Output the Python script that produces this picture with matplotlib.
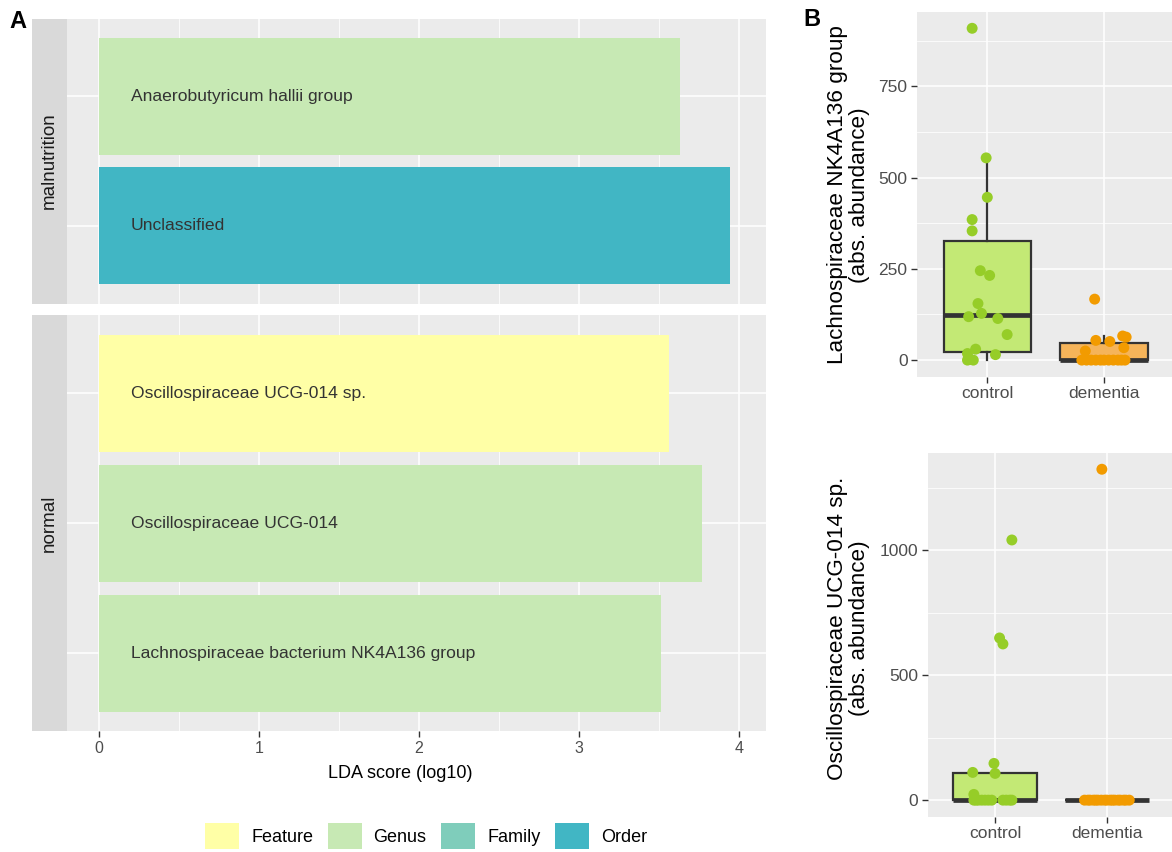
import matplotlib
matplotlib.use("Agg")
import matplotlib.pyplot as plt
from matplotlib.patches import Patch
from matplotlib.ticker import FixedLocator

plt.rcParams['font.family'] = ['Liberation Sans', 'DejaVu Sans']

# ---- LEfSe results (panel A) ----
groups = ["malnutrition", "normal"]
taxa_malnutrition = ["Anaerobutyricum hallii group", "Unclassified"]
lda_malnutrition = [3.63, 3.94]
level_malnutrition = ["Genus", "Order"]
taxa_normal = ["Oscillospiraceae UCG-014 sp.", "Oscillospiraceae UCG-014",
               "Lachnospiraceae bacterium NK4A136 group"]
lda_normal = [3.56, 3.77, 3.51]
level_normal = ["Feature", "Genus", "Genus"]
levels = ["Feature", "Genus", "Family", "Order"]
level_colors = ["#FFFFA6", "#C7E9B4", "#7FCDBB", "#41B6C4"]
lda_ticks = [0, 1, 2, 3, 4]

# ---- absolute abundances (panel B) ----
cohorts = ["control", "dementia"]
lachno_control = [909, 554, 446, 385, 354, 245, 232, 155, 128, 119, 114, 70, 30, 18, 15, 2, 0, 0]
lachno_control_dx = [-0.13, -0.01, 0.00, -0.13, -0.13, -0.06, 0.02, -0.08, -0.05,
                     -0.16, 0.09, 0.17, -0.10, -0.17, 0.07, -0.15, -0.17, -0.12]
lachno_dementia = [167, 66, 63, 54, 51, 34, 25, 0, 0, 0, 0, 0, 0, 0, 0, 0, 0, 0]
lachno_dementia_dx = [-0.08, 0.16, 0.19, -0.07, 0.05, 0.17, -0.16, -0.19, -0.15,
                      -0.11, -0.07, -0.03, 0.00, 0.04, 0.08, 0.12, 0.15, 0.18]
osc_control = [1041, 649, 625, 147, 111, 107, 23, 0, 0, 0, 0, 0, 0, 0, 0, 0, 0, 0]
osc_control_dx = [0.15, 0.04, 0.07, -0.01, -0.20, 0.00, -0.19, -0.19, -0.17,
                  -0.15, -0.12, -0.09, -0.06, -0.03, 0.07, 0.10, 0.13, 0.15]
osc_dementia = [1324, 0, 0, 0, 0, 0, 0, 0, 0, 0, 0, 0, 0, 0, 0, 0, 0, 0]
osc_dementia_dx = [-0.045, -0.20, -0.17, -0.15, -0.12, -0.10, -0.08, -0.05, -0.02,
                   0.00, 0.03, 0.05, 0.07, 0.10, 0.12, 0.15, 0.17, 0.20]
lachno_ticks = [0, 250, 500, 750]
osc_ticks = [0, 500, 1000]

point_colors = ["#96CD28", "#F29B00"]
box_fills = ["#C3E975", "#F5B45A"]

PANEL = "#EBEBEB"
TICK = "#333333"
TICKLAB = "#4D4D4D"

W, H = 1172, 852
fig = plt.figure(figsize=(W / 100, H / 100), dpi=100)


def px_axes(x0, y0, x1, y1):
    return fig.add_axes([x0 / W, 1 - y1 / H, (x1 - x0) / W, (y1 - y0) / H])


def gg_style(ax):
    ax.set_facecolor(PANEL)
    for s in ax.spines.values():
        s.set_visible(False)
    ax.set_axisbelow(True)
    ax.grid(which="major", color="white", lw=1.1)
    ax.grid(which="minor", color="white", lw=0.55)
    ax.tick_params(which="major", color=TICK, length=4, width=1.0,
                   labelcolor=TICKLAB, pad=3)
    ax.tick_params(which="minor", length=0)


# ---- panel A: faceted horizontal bars ----
lda_max = max(lda_malnutrition + lda_normal)
pad = 0.05 * lda_max
facets = [
    (groups[0], taxa_malnutrition, lda_malnutrition, level_malnutrition, 18.5, 303.5),
    (groups[1], taxa_normal, lda_normal, level_normal, 315.5, 731.0),
]
for i, (grp, taxa, lda, lev, top, bot) in enumerate(facets):
    ax = px_axes(67, top, 766, bot)
    gg_style(ax)
    ypos = list(range(1, len(taxa) + 1))
    cols = [level_colors[levels.index(l)] for l in lev]
    ax.barh(ypos, lda, height=0.9, color=cols, edgecolor="none", zorder=2)
    for y, t in zip(ypos, taxa):
        ax.text(0.2, y, t, ha="left", va="center", fontsize=12.6, color="#333333", zorder=3)
    ax.set_ylim(len(taxa) + 0.6, 0.4)
    ax.set_xlim(-pad, lda_max + pad + 0.03)
    ax.set_yticks(ypos)
    ax.set_yticklabels([])
    ax.tick_params(axis="y", length=0)
    ax.xaxis.set_major_locator(FixedLocator(lda_ticks))
    ax.xaxis.set_minor_locator(FixedLocator([t + 0.5 for t in lda_ticks[:-1]]))
    if i == 0:
        ax.tick_params(axis="x", length=0, labelbottom=False)
    else:
        ax.tick_params(axis="x", labelsize=11.5)
    # facet strip on the left
    sax = px_axes(32, top, 67, bot)
    sax.set_facecolor("#D9D9D9")
    for s in sax.spines.values():
        s.set_visible(False)
    sax.set_xticks([])
    sax.set_yticks([])
    sax.text(0.5, 0.5, grp, rotation=90, ha="center", va="center",
             fontsize=13.5, color="#1A1A1A", transform=sax.transAxes)

fig.text(400 / W, 1 - 773 / H, "LDA score (log10)", ha="center", va="center",
         fontsize=13, color="black")

handles = [Patch(facecolor=c, edgecolor="none") for c in level_colors]
fig.legend(handles, levels, loc="center", bbox_to_anchor=(426 / W, 1 - 836 / H),
           ncol=4, frameon=False, fontsize=13, handlelength=1.9, handleheight=1.9,
           handletextpad=0.65, columnspacing=0.8, borderpad=0, borderaxespad=0)


# ---- panel B: box plots with jittered points ----
def abundance_panel(box, ctrl, ctrl_dx, dem, dem_dx, ticks, ylabel, title_y):
    x0, y0, x1, y1 = box
    ax = px_axes(x0, y0, x1, y1)
    gg_style(ax)
    data = [ctrl, dem]
    bp = ax.boxplot(data, positions=[1, 2], widths=0.75, patch_artist=True,
                    showfliers=False, showcaps=False, whis=1.5,
                    boxprops=dict(edgecolor=TICK, linewidth=1.6),
                    whiskerprops=dict(color=TICK, linewidth=1.6),
                    medianprops=dict(color=TICK, linewidth=3.4, solid_capstyle="butt"),
                    zorder=2)
    for patch, fc in zip(bp["boxes"], box_fills):
        patch.set_facecolor(fc)
    for k, (vals, dx) in enumerate([(ctrl, ctrl_dx), (dem, dem_dx)]):
        ax.scatter([k + 1 + d for d in dx], vals, s=62, color=point_colors[k],
                   edgecolors="none", zorder=3)
    vmax = max(ctrl + dem)
    ax.set_ylim(-0.05 * vmax, 1.05 * vmax)
    ax.set_xlim(0.4, 2.6)
    ax.set_xticks([1, 2])
    ax.set_xticklabels(cohorts)
    ax.yaxis.set_major_locator(FixedLocator(ticks))
    step = ticks[1] - ticks[0]
    ax.yaxis.set_minor_locator(FixedLocator([t + step / 2 for t in ticks]))
    ax.tick_params(axis="both", labelsize=12.5)
    fig.text(848.5 / W, 1 - title_y / H, ylabel, rotation=90, ha="center",
             va="center", multialignment="center", fontsize=16.2,
             linespacing=1.12, color="black")
    return ax


abundance_panel((917.3, 11.7, 1174, 376.7), lachno_control, lachno_control_dx,
                lachno_dementia, lachno_dementia_dx, lachno_ticks,
                "Lachnospiraceae NK4A136 group\n(abs. abundance)", 195)
abundance_panel((928, 452.7, 1174, 816.7), osc_control, osc_control_dx,
                osc_dementia, osc_dementia_dx, osc_ticks,
                "Oscillospiraceae UCG-014 sp.\n(abs. abundance)", 628)

fig.text(18 / W, 1 - 22 / H, "A", ha="center", va="center", fontsize=17,
         fontweight="bold")
fig.text(812 / W, 1 - 20 / H, "B", ha="center", va="center", fontsize=17,
         fontweight="bold")

fig.savefig("out.png", dpi=100)
